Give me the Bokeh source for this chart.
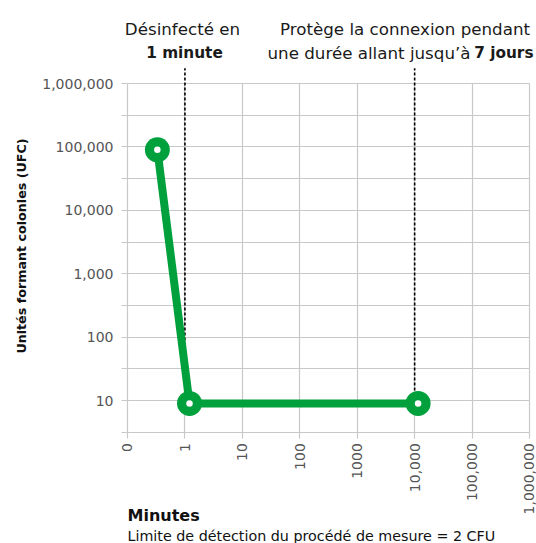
import math
from bokeh.plotting import figure
from bokeh.models import Range1d, FixedTicker, NumeralTickFormatter, Label, Grid
from bokeh.embed import file_html
from bokeh.resources import INLINE

# ---- data ----
x_ticks = [0, 1, 2, 3, 4, 5, 6, 7]
x_tick_labels = ["0", "1", "10", "100", "1000", "10,000", "100,000", "1,000,000"]
y_ticks = [10, 100, 1000, 10000, 100000, 1000000]
y_half_ticks = [10 ** 0.5, 10 ** 1.5, 10 ** 2.5, 10 ** 3.5, 10 ** 4.5, 10 ** 5.5]
series_x = [0.52, 1.08, 5.06]          # position on the minutes scale (0, 1, 10, 100, ...)
series_y = [90000, 9, 9]               # UFC
marker_x = [1, 5]                      # 1 minute, 7 jours

GREEN = "#00a03c"
GRID = "#c8c8c8"
TICK_TXT = "#555555"
TXT = "#1a1a1a"
FONT = "DejaVu Sans"

W, H = 536, 543
y_bottom = 10 ** 0.5
y_top = 1000000

# scales: x unit = 402/7 px, 0 at 127 px; y decade = 63.4 px, 1e6 at 83 px
xu = 402 / 7
yd = 63.4
x_start = -127 / xu
x_end = (W - 127) / xu
ly_top = 6 + 83 / yd
ly_bot = 6 - (H - 83) / yd

p = figure(width=W, height=H,
           x_range=Range1d(x_start, x_end), y_range=Range1d(10 ** ly_bot, 10 ** ly_top),
           y_axis_type="log", output_backend="svg", toolbar_location=None,
           min_border_left=0, min_border_right=0, min_border_top=0,
           min_border_bottom=0)
p.outline_line_color = None
p.background_fill_color = "white"
p.border_fill_color = "white"

# grids
has_cross = "cross_bounds" in Grid.properties()
p.xgrid.ticker = FixedTicker(ticks=x_ticks)
yticker = FixedTicker(ticks=y_ticks, minor_ticks=y_half_ticks)
p.ygrid.ticker = yticker
if has_cross:
    p.xgrid.grid_line_color = GRID
    p.xgrid.grid_line_width = 1.2
    p.xgrid.cross_bounds = (y_bottom, y_top)
    p.ygrid.grid_line_color = GRID
    p.ygrid.grid_line_width = 1.2
    p.ygrid.minor_grid_line_color = GRID
    p.ygrid.minor_grid_line_width = 1.2
    p.ygrid.cross_bounds = (x_ticks[0], x_ticks[-1])
else:
    p.xgrid.grid_line_color = None
    p.ygrid.grid_line_color = None
    p.segment(x0=x_ticks, y0=[y_bottom] * len(x_ticks), x1=x_ticks,
              y1=[y_top] * len(x_ticks), line_color=GRID, line_width=1.2)
    ys = sorted(y_ticks + y_half_ticks)
    p.segment(x0=[x_ticks[0]] * len(ys), y0=ys, x1=[x_ticks[-1]] * len(ys),
              y1=ys, line_color=GRID, line_width=1.2)

# y axis (fixed at x = 0)
ya = p.yaxis[0]
ya.fixed_location = x_ticks[0]
ya.ticker = yticker
ya.formatter = NumeralTickFormatter(format="0,0")
ya.axis_line_color = None
ya.major_tick_line_color = GRID
ya.major_tick_line_width = 1.2
ya.major_tick_out = 6
ya.major_tick_in = 0
ya.minor_tick_line_color = GRID
ya.minor_tick_line_width = 1.2
ya.minor_tick_out = 6
ya.minor_tick_in = 0
ya.major_label_standoff = 8
ya.major_label_text_font = FONT
ya.major_label_text_font_size = "14px"
ya.major_label_text_color = TICK_TXT

# x axis (fixed at the bottom of the grid)
xa = p.xaxis[0]
xa.fixed_location = y_bottom
xa.ticker = FixedTicker(ticks=x_ticks)
xa.major_label_overrides = {t: l for t, l in zip(x_ticks, x_tick_labels)}
xa.axis_line_color = None
xa.major_tick_line_color = GRID
xa.major_tick_line_width = 1.2
xa.major_tick_out = 6
xa.major_tick_in = 0
xa.minor_tick_line_color = None
xa.major_label_orientation = math.pi / 2
xa.major_label_standoff = 5
xa.major_label_text_font = FONT
xa.major_label_text_font_size = "14px"
xa.major_label_text_color = TICK_TXT

# dashed markers
p.segment(x0=marker_x, y0=[10] * len(marker_x), x1=marker_x,
          y1=[10 ** 6.24] * len(marker_x),
          line_color="black", line_width=1.6, line_dash="3 2")

# series
p.line(series_x, series_y, line_width=8, line_color=GREEN)
p.scatter(series_x, series_y, size=25, fill_color=GREEN, line_color=None)
p.scatter(series_x, series_y, size=6.5, fill_color="white", line_color=None)

# annotations (screen px measured from the top-left, converted)
def lab(text, sx, sy, align="center", bold=False, size="16.7px", color=TXT,
        angle=0.0, baseline="alphabetic"):
    p.add_layout(Label(x=sx, y=H - sy, x_units="screen", y_units="screen", text=text,
                       text_align=align, text_baseline=baseline, angle=angle,
                       text_font=FONT, text_font_size=size,
                       text_font_style="bold" if bold else "normal",
                       text_color=color))

lab("Désinfecté en", 182, 28)
lab("1 minute", 184, 52, bold=True, size="15.3px")
lab("Protège la connexion pendant", 404.5, 28)
lab("une durée allant jusqu’à", 470, 52, align="right")
lab("7 jours", 533, 52, align="right", bold=True, size="15.3px")

lab("Unités formant colonies (UFC)", 21, 245.5, bold=True, size="12.7px",
    angle=math.pi / 2, baseline="middle", color="#111111")
lab("Minutes", 127, 515, align="left", bold=True, size="16px", color="#111111")
lab("Limite de détection du procédé de mesure = 2 CFU", 127, 535, align="left",
    size="14.3px", color="#111111")

open("out.html", "w").write(file_html(p, INLINE))
